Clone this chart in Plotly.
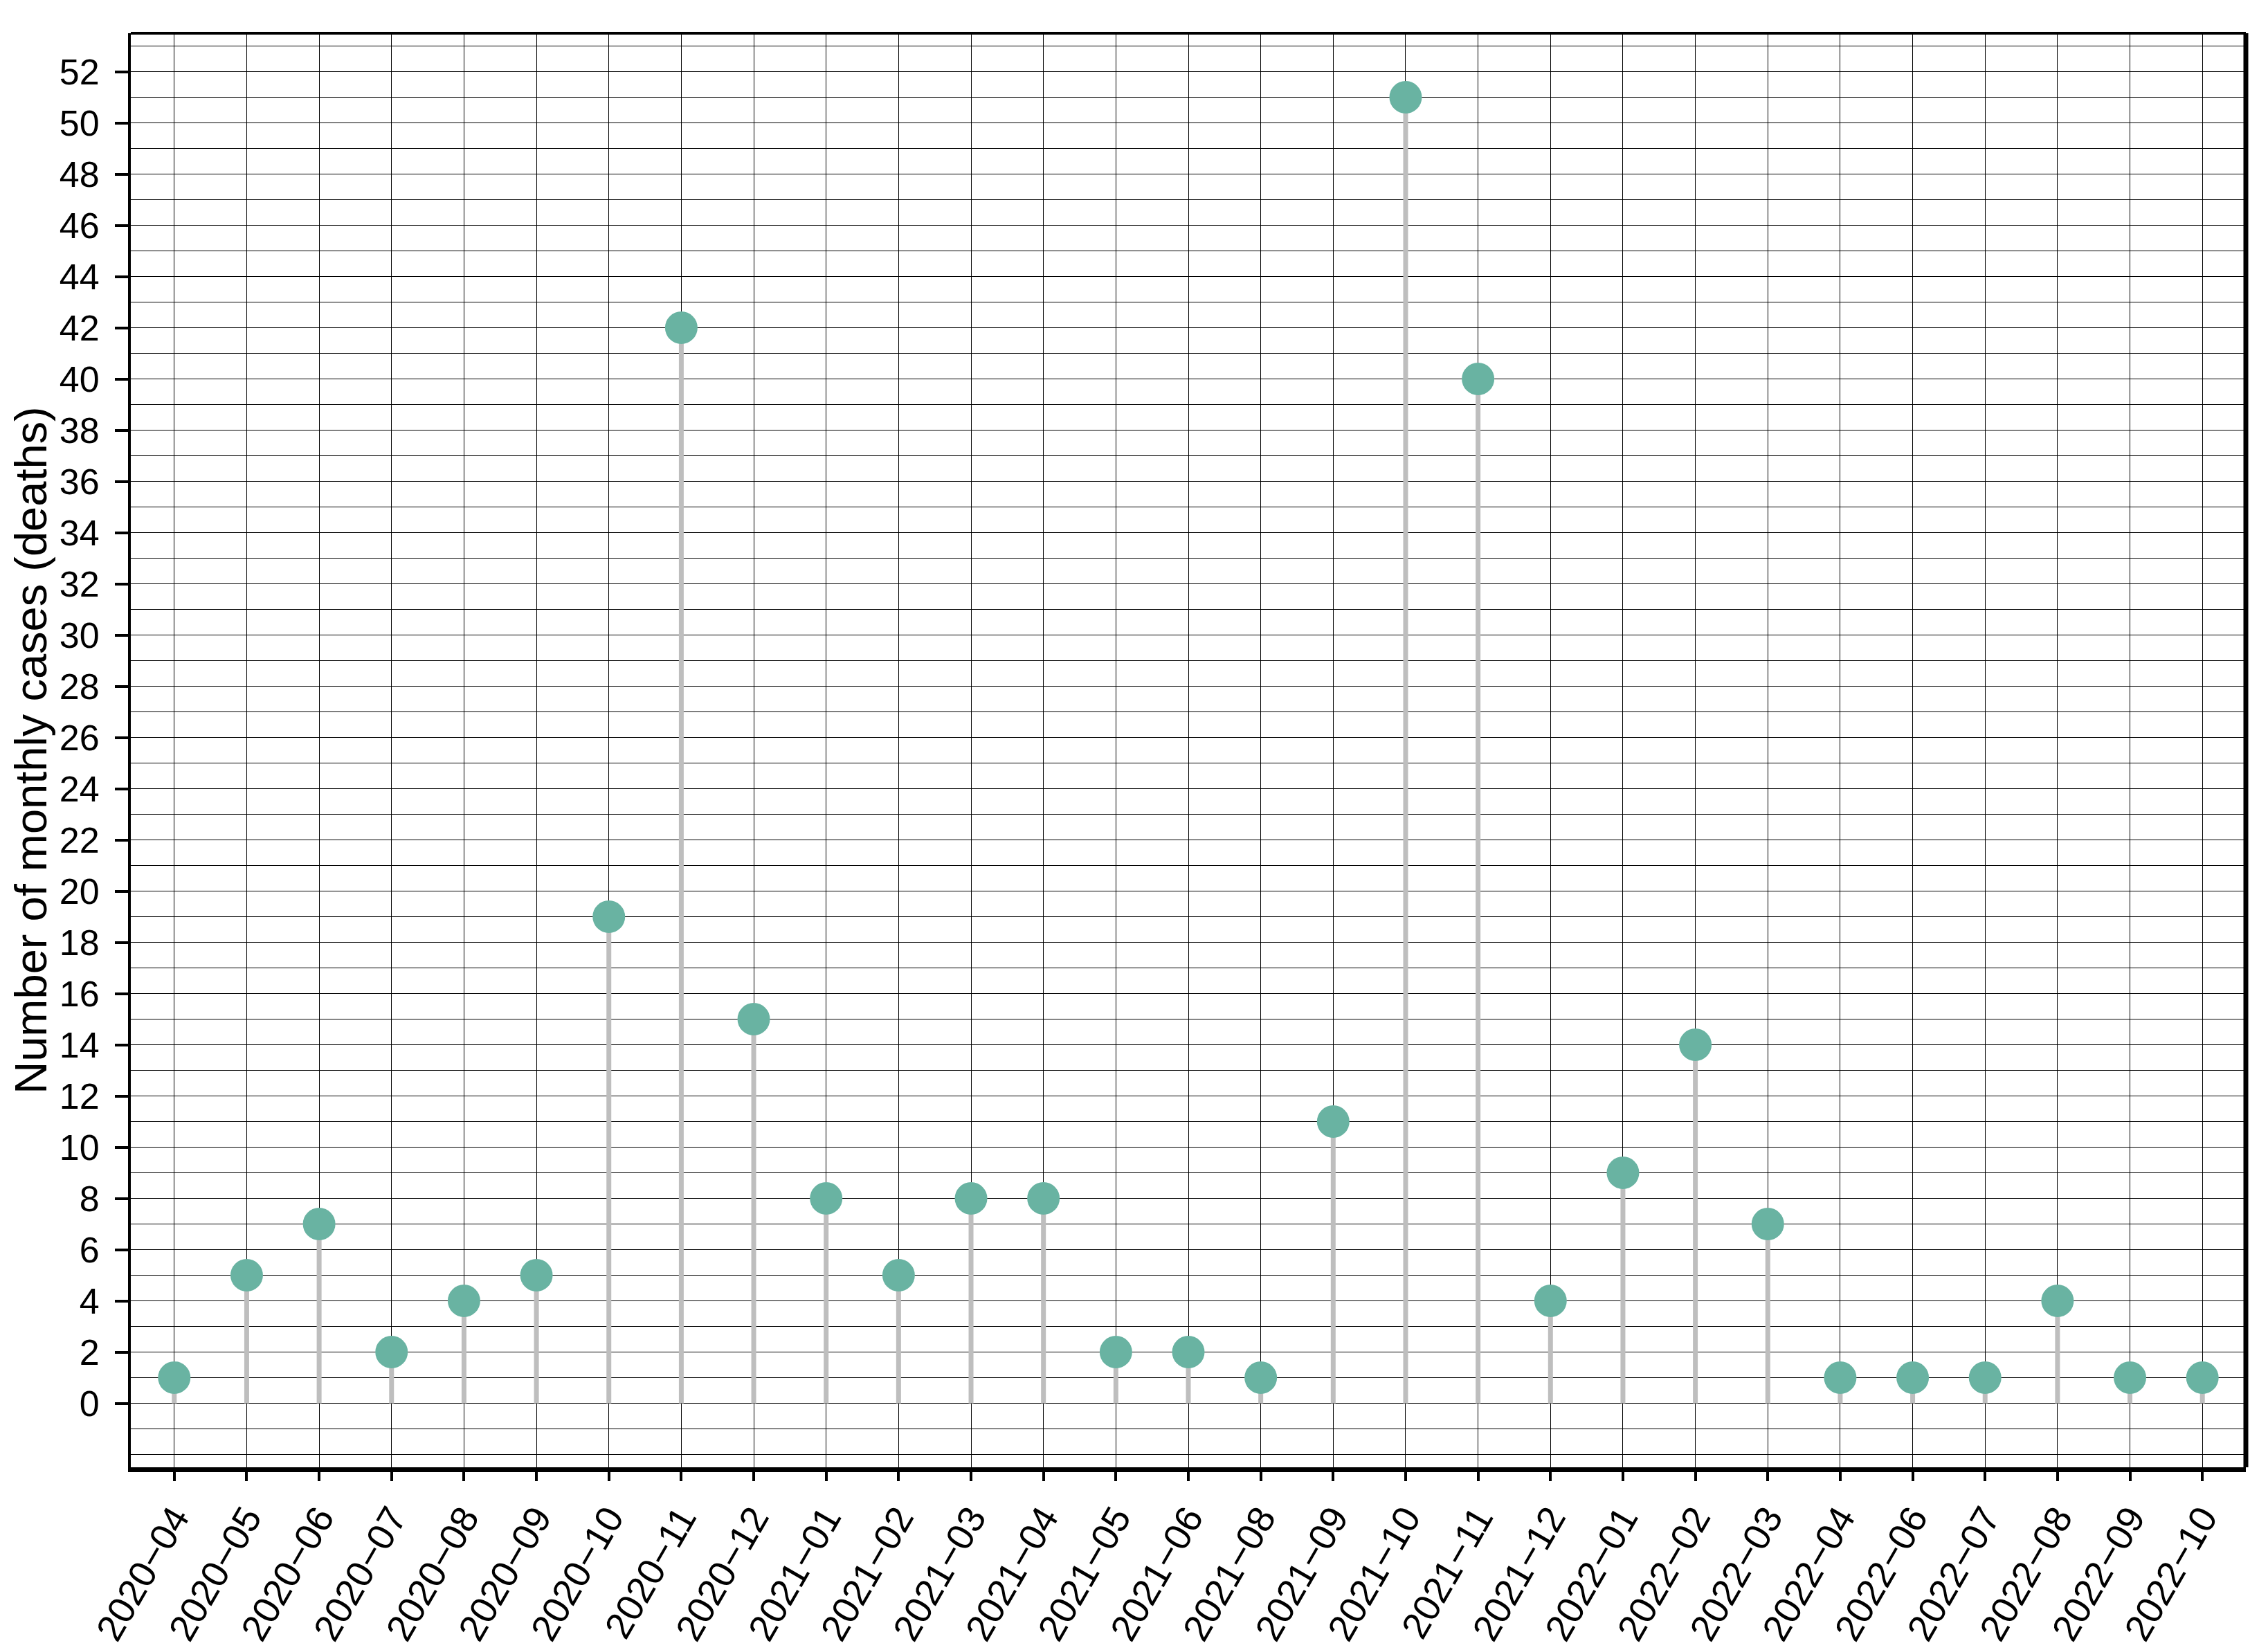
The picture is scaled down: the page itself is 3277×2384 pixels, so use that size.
import plotly.graph_objects as go

MONTHS = [
    "2020-04", "2020-05", "2020-06", "2020-07", "2020-08", "2020-09", "2020-10",
    "2020-11", "2020-12", "2021-01", "2021-02", "2021-03", "2021-04", "2021-05",
    "2021-06", "2021-08", "2021-09", "2021-10", "2021-11", "2021-12", "2022-01",
    "2022-02", "2022-03", "2022-04", "2022-06", "2022-07", "2022-08", "2022-09",
    "2022-10",
]
DEATHS = [1, 5, 7, 2, 4, 5, 19, 42, 15, 8, 5, 8, 8, 2, 2, 1, 11, 51, 40, 4, 9, 14, 7, 1, 1, 1, 4, 1, 1]
Y_TICKS = list(range(0, 53, 2))

POINT_COLOR = "#69b3a2"
STEM_COLOR = "#bebebe"
FONT = "Liberation Sans, Arial, sans-serif"

# labels use a real minus sign like the original
labels = [m.replace("-", "\u2212") for m in MONTHS]

# stems from 0 up to each value, one trace with None breaks
stem_x, stem_y = [], []
for lab, v in zip(labels, DEATHS):
    stem_x += [lab, lab, None]
    stem_y += [0, v, None]

fig = go.Figure()
fig.add_trace(go.Scatter(
    x=stem_x, y=stem_y,
    mode="lines",
    line=dict(color=STEM_COLOR, width=7),
    hoverinfo="skip",
    showlegend=False,
))
fig.add_trace(go.Scatter(
    x=labels, y=DEATHS,
    mode="markers",
    marker=dict(size=47, color=POINT_COLOR, line=dict(width=0)),
    showlegend=False,
))

fig.update_layout(
    width=3277, height=2384,
    margin=dict(l=177, r=40, t=40, b=272),
    plot_bgcolor="white",
    paper_bgcolor="white",
    font=dict(family=FONT, color="black", size=52),
    shapes=[
        dict(type="line", xref="paper", yref="paper", x0=0, x1=1, y0=1, y1=1,
             line=dict(color="black", width=4)),
        dict(type="line", xref="paper", yref="paper", x0=1, x1=1, y0=0, y1=1,
             line=dict(color="black", width=7)),
    ],
)
fig.update_xaxes(
    type="category",
    categoryorder="array", categoryarray=labels,
    range=[-0.6, len(labels) - 0.4],
    tickangle=-60,
    tickfont=dict(size=54, family=FONT, color="black"),
    ticks="outside", ticklen=13, tickwidth=4, tickcolor="black",
    showline=True, linecolor="black", linewidth=7,
    showgrid=True, gridcolor="black", gridwidth=1.2,
    zeroline=False,
)
fig.update_yaxes(
    range=[-2.5, 53.5],
    tickvals=Y_TICKS,
    tickfont=dict(size=52, family=FONT, color="black"),
    ticks="outside", ticklen=19, tickwidth=4, tickcolor="black",
    ticklabelstandoff=12,
    showline=True, linecolor="black", linewidth=4,
    showgrid=True, gridcolor="black", gridwidth=1.2,
    minor=dict(dtick=1, tick0=0, showgrid=True, gridcolor="black", gridwidth=1.2),
    zeroline=False,
    title=dict(text="Number of monthly cases (deaths)", font=dict(size=65, family=FONT), standoff=20),
)

fig.write_html("out.html")
